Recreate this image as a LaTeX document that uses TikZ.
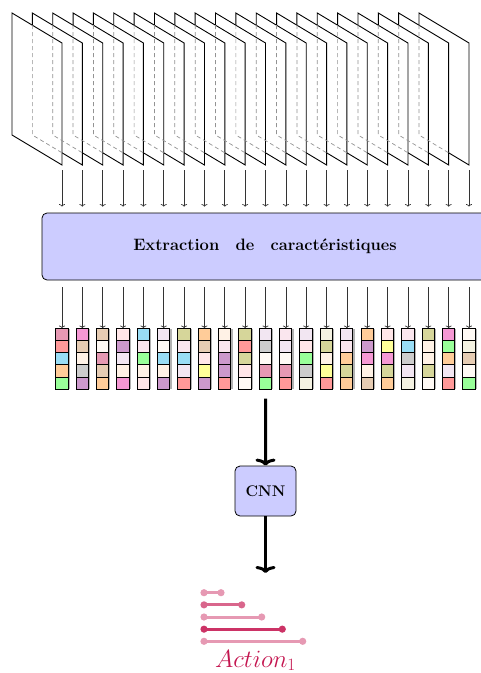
\documentclass[tikz,border=0pt]{standalone}
\usetikzlibrary{arrows.meta}
\definecolor{cP}{HTML}{E699B3}
\definecolor{cR}{HTML}{FF9999}
\definecolor{cC}{HTML}{99DDF5}
\definecolor{cO}{HTML}{FFCC99}
\definecolor{cG}{HTML}{99FF99}
\definecolor{cM}{HTML}{F598D4}
\definecolor{cT}{HTML}{E6CCB3}
\definecolor{cB}{HTML}{FFF2E6}
\definecolor{cGr}{HTML}{CCCCCC}
\definecolor{cV}{HTML}{CC99CC}
\definecolor{cI}{HTML}{FFFAF5}
\definecolor{cPP}{HTML}{FFE6E8}
\definecolor{cL}{HTML}{F2E6F2}
\definecolor{cPL}{HTML}{FAE6EE}
\definecolor{cOl}{HTML}{D6D69A}
\definecolor{cY}{HTML}{FFFF99}
\definecolor{cGB}{HTML}{F4F2E2}
\definecolor{boxblue}{HTML}{CCCCFF}
\definecolor{aLight}{HTML}{E699B3}
\definecolor{aMid}{HTML}{D9668C}
\definecolor{aDark}{HTML}{CC3366}
\definecolor{aText}{HTML}{C41650}
\begin{document}
\begin{tikzpicture}[x=1pt,y=-1pt,
  frame/.style={draw=black,fill=white,line width=0.9pt,line join=miter},
  hidden/.style={draw=gray!85,line width=0.7pt,dash pattern=on 4pt off 3pt},
  thinarrow/.style={draw=black!80,line width=0.7pt,-{To[length=2.5pt,width=6pt]}},
  bigarrow/.style={draw=black,line width=3pt,-{To[length=7pt,width=20pt]}},
  procbox/.style={draw=black,fill=boxblue,rounded corners=5pt,line width=0.8pt,
    inner sep=0pt,font=\fontsize{16.5}{19}\selectfont\bfseries},
  colnode/.style={inner sep=0pt,minimum width=12.3pt,minimum height=61pt},
  cell/.style={draw=black,line width=0.8pt},
  bar/.style={line width=3pt}
]
\useasboundingbox (0,0) rectangle (481,673);

% frames (drawn right to left so the left ones lie in front)
\foreach \i in {20,19,...,0}{
  \pgfmathsetmacro\xx{12+20.35*\i}
  \draw[frame] (\xx,13) -- (\xx+50,43) -- (\xx+50,165) -- (\xx,135) -- cycle;
}
\foreach \i in {1,...,20}{
  \pgfmathsetmacro\xx{12+20.35*\i}
  \draw[hidden] (\xx,25.2) -- (\xx,135) -- (\xx+29.65,152.8);
}

% feature extraction box
\node[procbox,minimum width=446pt,minimum height=67pt] (ext) at (265,246.5)
  {Extraction\hspace{10pt} de\hspace{10pt} caractéristiques};

% arrows from frames to the box
\foreach \i in {0,...,20}{
  \coordinate (fb\i) at (62+20.35*\i,170);
  \draw[thinarrow,shorten >=6pt] (fb\i) -- (fb\i |- ext.north);
}

% feature columns
\foreach \i/\a/\b/\c/\d/\e in {
  0/cP/cR/cC/cO/cG,
  1/cM/cT/cB/cGr/cV,
  2/cT/cI/cP/cT/cO,
  3/cPP/cV/cL/cB/cM,
  4/cC/cPL/cG/cB/cPP,
  5/cL/cI/cC/cB/cV,
  6/cOl/cPL/cC/cL/cR,
  7/cO/cT/cPP/cY/cV,
  8/cB/cPL/cV/cV/cR,
  9/cOl/cR/cOl/cPP/cI,
  10/cL/cGr/cI/cP/cG,
  11/cPL/cL/cI/cP/cR,
  12/cL/cPP/cG/cGr/cGB,
  13/cGB/cOl/cB/cY/cR,
  14/cL/cPL/cO/cOl/cO,
  15/cO/cV/cM/cB/cT,
  16/cPP/cY/cM/cOl/cO,
  17/cPL/cC/cGr/cL/cGB,
  18/cOl/cB/cB/cOl/cI,
  19/cM/cG/cO/cL/cR,
  20/cI/cGB/cT/cI/cG}{
  \node[colnode] (col\i) at (62+20.35*\i,358.8) {};
  \fill[gray!60] ([xshift=1.2pt,yshift=-0.6pt]col\i.north west) rectangle ([xshift=1.4pt,yshift=0.6pt]col\i.south east);
  \foreach \k/\cc in {0/\a,1/\b,2/\c,3/\d,4/\e}{
    \filldraw[cell,fill=\cc] ([yshift=-12.2*\k pt]col\i.north west) rectangle ++(12.3,12.2);
  }
  \draw[thinarrow,shorten <=7pt] (ext.south -| col\i) -- (col\i.north);
}

% CNN
\node[procbox,font=\fontsize{15.4}{18}\selectfont\bfseries,minimum width=61pt,minimum height=50pt] (cnn) at (265.5,491) {CNN};
\draw[bigarrow,shorten <=9pt] (col10.south) -- (cnn.north);
\coordinate (out) at (265.5,573);
\draw[bigarrow] (cnn.south) -- (out);

% action icon
\foreach \k/\len/\cc in {0/17/aLight,1/37.7/aMid,2/57.7/aLight,3/78.3/aDark,4/98.7/aLight}{
  \coordinate (bs\k) at (204,592.7+12.15*\k);
  \coordinate (be\k) at (204+\len,592.7+12.15*\k);
  \draw[bar,\cc] (bs\k) -- (be\k);
  \fill[\cc] (bs\k) circle (3.6pt);
  \fill[\cc] (be\k) circle (3.6pt);
}
\node[anchor=base,inner sep=0pt,text=aText,font=\fontsize{25}{30}\selectfont] (lbl) at (255.5,667) {$Action_1$};
\end{tikzpicture}
\end{document}
